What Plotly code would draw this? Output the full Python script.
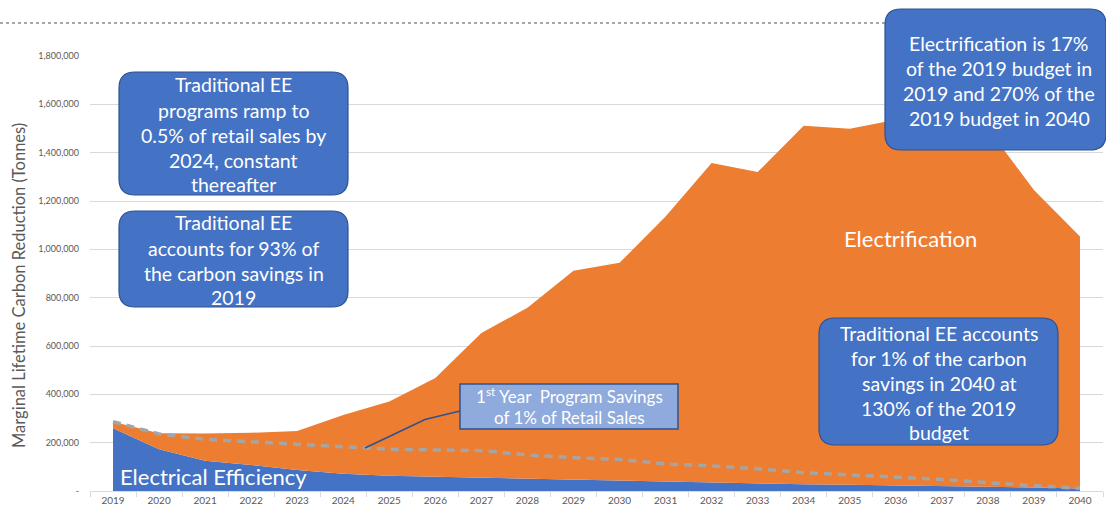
import plotly.graph_objects as go

# ---------------- data ----------------
years = [str(y) for y in range(2019, 2041)]
electrical_efficiency = [260000, 173000, 125000, 108000, 87000, 71000, 63000, 59000,
                         55000, 50000, 46000, 41000, 37000, 33000, 30000, 28000,
                         26000, 24000, 22000, 18000, 14000, 10000]
electrification = [27000, 66000, 113000, 133000, 161000, 244000, 307000, 409000,
                   599000, 708000, 865000, 903000, 1099000, 1324000, 1290000, 1483000,
                   1473000, 1512000, 1528000, 1482000, 1232000, 1043000]
first_year_savings_1pct = [287000, 236000, 214000, 204000, 193000, 184000, 173000, 170000,
                           167000, 149000, 138000, 131000, 112000, 104000, 92000, 76000,
                           66000, 59000, 48000, 34000, 21000, 11000]
y_tickvals = [0, 200000, 400000, 600000, 800000, 1000000, 1200000, 1400000, 1600000, 1800000]
y_ticktext = ["-", "200,000", "400,000", "600,000", "800,000", "1,000,000",
              "1,200,000", "1,400,000", "1,600,000", "1,800,000"]

# ---------------- layout geometry ----------------
W, H = 1106, 510
ML, MR, MT, MB = 90, 3, 56, 19
PW = W - ML - MR
PH = H - MT - MB
BOTTOM = H - MB

FONT = "Lato"
BLUE = "#4472C4"
ORANGE = "#ED7D31"
BORDER = "#2F528F"
BOX_FONT = 19.5


def px_x(px):
    return (px - ML) / PW


def px_y(py):
    return (BOTTOM - py) / PH


def rrect(l, t, r, b, rad):
    x0, x1 = px_x(l), px_x(r)
    y0, y1 = px_y(b), px_y(t)
    rx, ry = rad / PW, rad / PH
    return (f"M{x0+rx},{y1} L{x1-rx},{y1} Q{x1},{y1} {x1},{y1-ry} "
            f"L{x1},{y0+ry} Q{x1},{y0} {x1-rx},{y0} L{x0+rx},{y0} "
            f"Q{x0},{y0} {x0},{y0+ry} L{x0},{y1-ry} Q{x0},{y1} {x0+rx},{y1} Z")


fig = go.Figure()
fig.add_trace(go.Scatter(x=years, y=electrical_efficiency, stackgroup="one", mode="lines",
                         line=dict(width=0, color=BLUE), fillcolor=BLUE,
                         name="Electrical Efficiency", hoverinfo="skip"))
fig.add_trace(go.Scatter(x=years, y=electrification, stackgroup="one", mode="lines",
                         line=dict(width=0, color=ORANGE), fillcolor=ORANGE,
                         name="Electrification", hoverinfo="skip"))
fig.add_trace(go.Scatter(x=years, y=first_year_savings_1pct, mode="lines",
                         line=dict(color="#A5A5A5", width=3.5, dash="8px,6px"),
                         name="1st Year Program Savings", hoverinfo="skip"))

shapes = []
annotations = []

# top dotted rule
shapes.append(dict(type="line", xref="paper", yref="paper", x0=px_x(0), x1=px_x(886),
                   y0=px_y(23), y1=px_y(23), line=dict(color="#8C8C8C", width=1.3, dash="dot")))


def add_box(l, t, r, b, lines, cx, ys, size, rad=16):
    shapes.append(dict(type="path", xref="paper", yref="paper", path=rrect(l, t, r, b, rad),
                       fillcolor=BLUE, line=dict(color=BORDER, width=1.2), layer="above"))
    for txt, yy in zip(lines, ys):
        annotations.append(dict(xref="paper", yref="paper", x=px_x(cx), y=px_y(yy),
                                text=txt, showarrow=False, xanchor="center", yanchor="middle",
                                font=dict(family=FONT, size=size, color="white")))


add_box(119, 72, 348, 195,
        ["Traditional EE", "programs ramp to", "0.5% of retail sales by",
         "2024, constant", "thereafter"],
        233.5, [84, 110, 135, 160, 184], BOX_FONT)
add_box(119, 211, 348, 307,
        ["Traditional EE", "accounts for 93% of", "the carbon savings in", "2019"],
        233.5, [223, 248, 273, 297], BOX_FONT)
add_box(885, 9, 1106, 150,
        ["Electrification is 17%", "of the 2019 budget in", "2019 and 270% of the",
         "2019 budget in 2040"],
        999, [43, 68, 93, 118], BOX_FONT)
add_box(819, 318, 1058, 445,
        ["Traditional EE accounts", "for 1% of the carbon", "savings in 2040 at",
         "130% of the 2019", "budget"],
        938.5, [333, 358, 383, 408, 432], BOX_FONT)

# connector line and light-blue callout
shapes.append(dict(type="path", xref="paper", yref="paper",
                   path=(f"M{px_x(365)},{px_y(448)} L{px_x(425)},{px_y(419.5)} "
                         f"L{px_x(460)},{px_y(411)}"),
                   line=dict(color=BORDER, width=1.5)))
shapes.append(dict(type="rect", xref="paper", yref="paper",
                   x0=px_x(460), x1=px_x(678), y0=px_y(429), y1=px_y(384),
                   fillcolor="#8FAADC", line=dict(color=BORDER, width=1.5)))
annotations.append(dict(xref="paper", yref="paper", x=px_x(569), y=px_y(395),
                        text="1<sup>st</sup> Year  Program Savings", showarrow=False,
                        xanchor="center", yanchor="middle",
                        font=dict(family=FONT, size=17, color="white")))
annotations.append(dict(xref="paper", yref="paper", x=px_x(569), y=px_y(417),
                        text="of 1% of Retail Sales", showarrow=False,
                        xanchor="center", yanchor="middle",
                        font=dict(family=FONT, size=17, color="white")))

# series labels
annotations.append(dict(xref="paper", yref="paper", x=px_x(118), y=px_y(476),
                        text="Electrical Efficiency", showarrow=False,
                        xanchor="left", yanchor="middle",
                        font=dict(family=FONT, size=22, color="white")))
annotations.append(dict(xref="paper", yref="paper", x=px_x(910), y=px_y(238),
                        text="Electrification", showarrow=False,
                        xanchor="center", yanchor="middle",
                        font=dict(family=FONT, size=22, color="white")))

# y axis title
annotations.append(dict(xref="paper", yref="paper", x=px_x(19), y=px_y(286),
                        text="Marginal Lifetime Carbon Reduction (Tonnes)", showarrow=False,
                        textangle=-90, xanchor="center", yanchor="middle",
                        font=dict(family=FONT, size=16.5, color="#595959")))

fig.update_layout(
    width=W, height=H,
    margin=dict(l=ML, r=MR, t=MT, b=MB),
    paper_bgcolor="white", plot_bgcolor="white",
    showlegend=False,
    shapes=shapes, annotations=annotations,
    xaxis=dict(type="category", range=[-0.5, 21.5], tickson="boundaries", ticks="outside",
               ticklen=5, tickcolor="#D9D9D9", showgrid=False, showline=True,
               linecolor="#D9D9D9", linewidth=1,
               tickfont=dict(family=FONT, size=10, color="#595959"), fixedrange=True),
    yaxis=dict(range=[0, 1800000], tickvals=y_tickvals, ticktext=y_ticktext,
               showgrid=True, gridcolor="#D9D9D9", gridwidth=1, zeroline=False,
               showline=False, ticks="", ticklabelstandoff=10,
               tickfont=dict(family=FONT, size=9, color="#595959"), fixedrange=True),
)

fig.write_html("out.html", config={"displayModeBar": False},
               post_script="document.body.style.margin='0px';")
